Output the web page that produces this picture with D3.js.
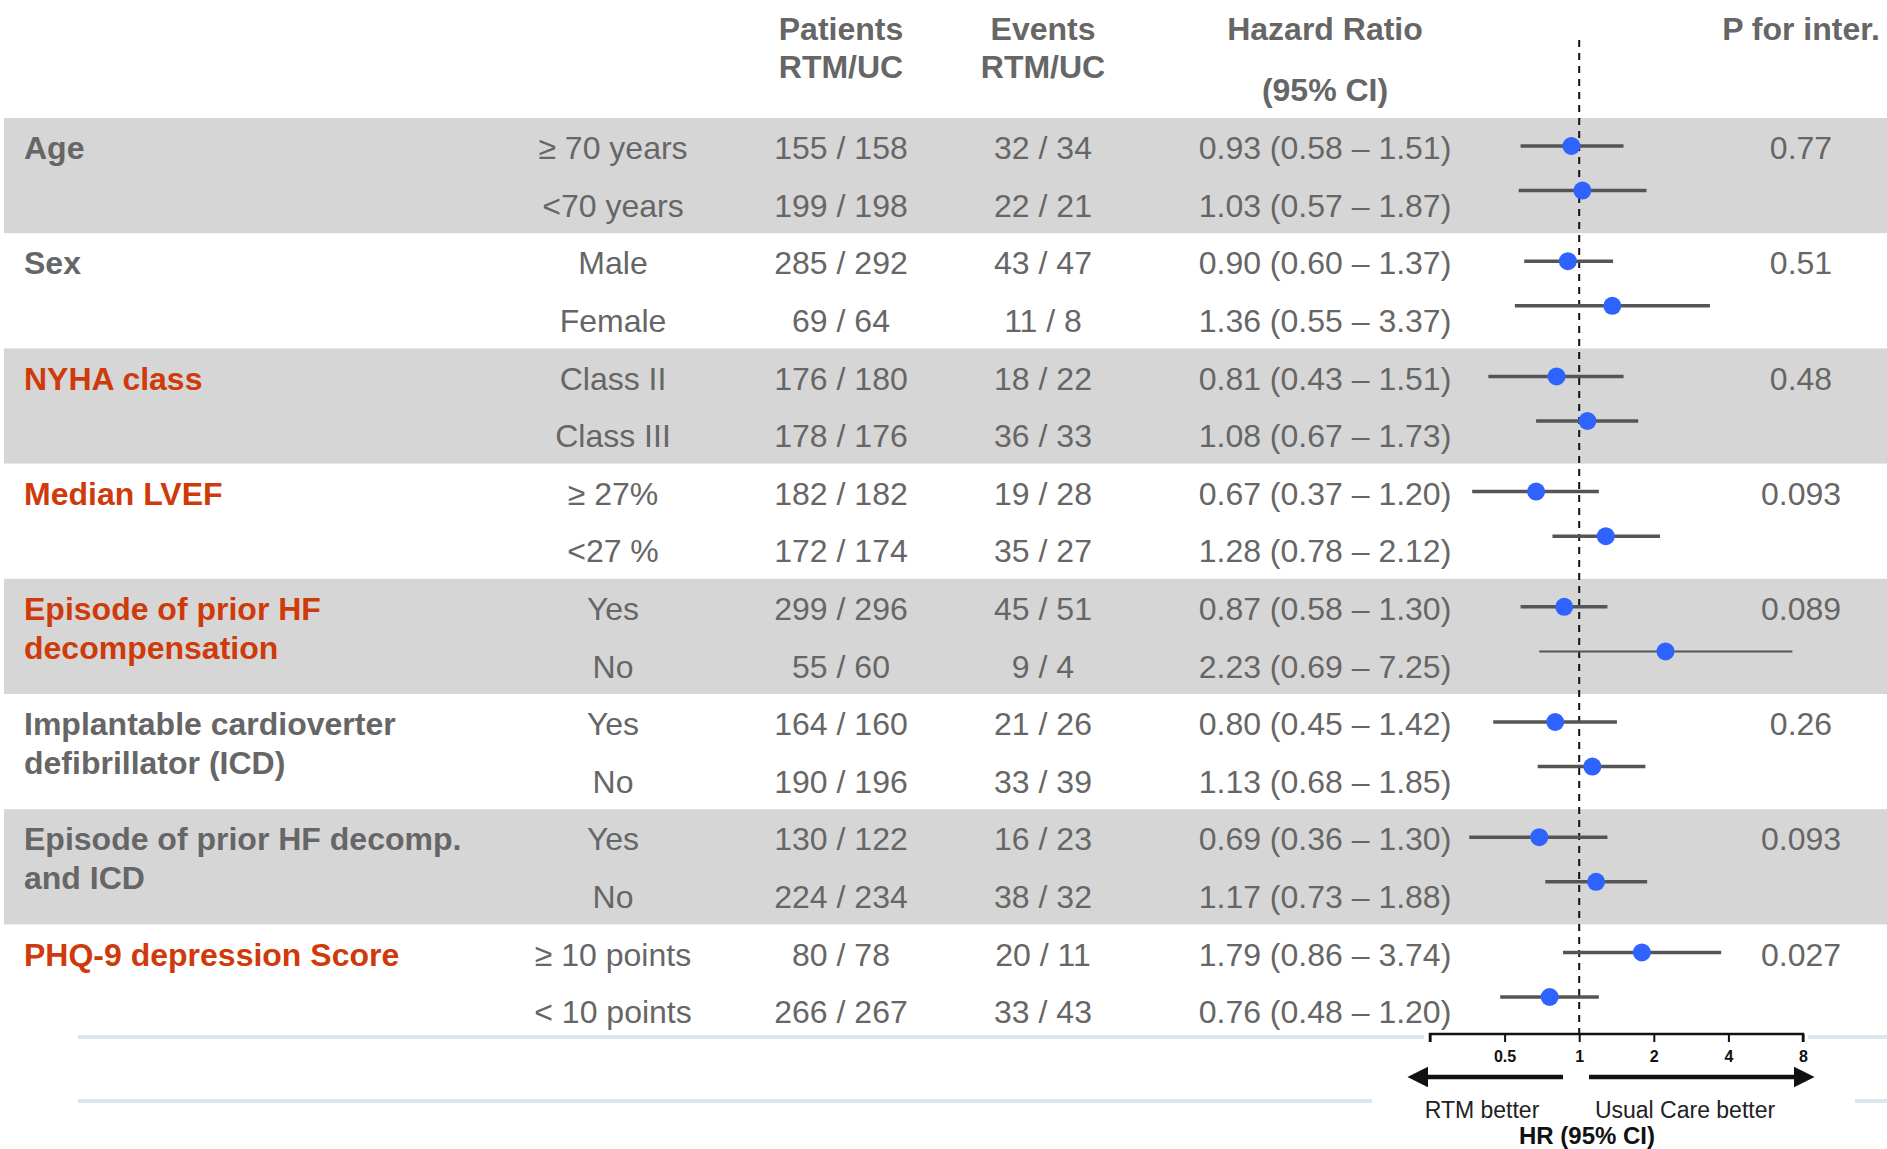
<!DOCTYPE html>
<html>
<head>
<meta charset="utf-8">
<script src="https://cdn.jsdelivr.net/npm/d3@7"></script>
<style>
  html, body { margin: 0; padding: 0; background: #fff; }
  svg { display: block; }
  text { font-family: "Liberation Sans", Arial, sans-serif; }
</style>
</head>
<body>
<svg id="chart" width="1887" height="1149"></svg>
<script>
// Subgroup analysis: RTM vs usual care, hazard ratios with 95% CI
const groupLabels = [
  ["Age"],
  ["Sex"],
  ["NYHA class"],
  ["Median LVEF"],
  ["Episode of prior HF", "decompensation"],
  ["Implantable cardioverter", "defibrillator (ICD)"],
  ["Episode of prior HF decomp.", "and ICD"],
  ["PHQ-9 depression Score"]
];
const highlightedGroups = [2, 3, 4, 7];
const subgroups = ["\u2265 70 years", "<70 years", "Male", "Female", "Class II", "Class III",
  "\u2265 27%", "<27 %", "Yes", "No", "Yes", "No", "Yes", "No", "\u2265 10 points", "< 10 points"];
const patients = ["155 / 158", "199 / 198", "285 / 292", "69 / 64", "176 / 180", "178 / 176",
  "182 / 182", "172 / 174", "299 / 296", "55 / 60", "164 / 160", "190 / 196", "130 / 122",
  "224 / 234", "80 / 78", "266 / 267"];
const events = ["32 / 34", "22 / 21", "43 / 47", "11 / 8", "18 / 22", "36 / 33", "19 / 28",
  "35 / 27", "45 / 51", "9 / 4", "21 / 26", "33 / 39", "16 / 23", "38 / 32", "20 / 11", "33 / 43"];
const hr = [0.93, 1.03, 0.90, 1.36, 0.81, 1.08, 0.67, 1.28, 0.87, 2.23, 0.80, 1.13, 0.69, 1.17, 1.79, 0.76];
const ciLow = [0.58, 0.57, 0.60, 0.55, 0.43, 0.67, 0.37, 0.78, 0.58, 0.69, 0.45, 0.68, 0.36, 0.73, 0.86, 0.48];
const ciHigh = [1.51, 1.87, 1.37, 3.37, 1.51, 1.73, 1.20, 2.12, 1.30, 7.25, 1.42, 1.85, 1.30, 1.88, 3.74, 1.20];
const pInteraction = ["0.77", "0.51", "0.48", "0.093", "0.089", "0.26", "0.093", "0.027"];
const axisTicks = [0.25, 0.5, 1, 2, 4, 8];
const axisTickLabels = ["", "0.5", "1", "2", "4", "8"];

const svg = d3.select("#chart");
const textGray = "#666666";
const accent = "#cf3a0b";
const bandFill = "#d6d6d6";

const nRows = subgroups.length;
const y = d3.scaleLinear().domain([0, nRows - 1]).range([148, 1012]);
const rowStep = y(1) - y(0);
const x = d3.scaleLog().base(2).domain([0.25, 8]).range([1430, 1803]);

const col = { label: 24, sub: 613, pat: 841, evt: 1043, hr: 1325, p: 1801 };

// Alternating group bands
const bands = svg.append("g");
groupLabels.forEach((g, i) => {
  if (i % 2 === 0) {
    bands.append("rect")
      .attr("x", 4).attr("width", 1887 - 4)
      .attr("y", y(2 * i) - 30).attr("height", rowStep * 2)
      .attr("fill", bandFill);
  }
});

// Column headers
const head = svg.append("g").attr("font-weight", "bold").attr("font-size", 32)
  .attr("fill", textGray).attr("text-anchor", "middle");
[[col.pat, 29, "Patients"], [col.pat, 67, "RTM/UC"], [col.evt, 29, "Events"],
 [col.evt, 67, "RTM/UC"], [col.hr, 29, "Hazard Ratio"], [col.hr, 90, "(95% CI)"],
 [col.p, 29, "P for inter."]].forEach(([cx, cy, t]) => {
  head.append("text").attr("x", cx).attr("y", cy).attr("dy", "0.35em").text(t);
});

// Group labels and interaction p-values
const gl = svg.append("g").attr("font-size", 32);
groupLabels.forEach((lines, i) => {
  const t = gl.append("text")
    .attr("font-weight", "bold")
    .attr("fill", highlightedGroups.includes(i) ? accent : textGray);
  lines.forEach((ln, k) => {
    t.append("tspan").attr("x", col.label).attr("y", y(2 * i) + k * 38.5)
      .attr("dy", "0.35em").text(ln);
  });
  gl.append("text").attr("x", col.p).attr("y", y(2 * i)).attr("dy", "0.35em")
    .attr("text-anchor", "middle").attr("fill", textGray).text(pInteraction[i]);
});

// Row values
const fmt = d3.format(".2f");
const rows = svg.append("g").attr("font-size", 32).attr("fill", textGray).attr("text-anchor", "middle");
subgroups.forEach((s, i) => {
  const cy = y(i);
  const cells = [
    [col.sub, s], [col.pat, patients[i]], [col.evt, events[i]],
    [col.hr, `${fmt(hr[i])} (${fmt(ciLow[i])} \u2013 ${fmt(ciHigh[i])})`]
  ];
  cells.forEach(([cx, t]) => {
    rows.append("text").attr("x", cx).attr("y", cy).attr("dy", "0.35em").text(t);
  });
});

// Light separator rules under the table
const rules = svg.append("g").attr("stroke", "#dae5ec").attr("stroke-width", 4);
rules.append("line").attr("x1", 78).attr("x2", 1887).attr("y1", 1037).attr("y2", 1037);
rules.append("line").attr("x1", 78).attr("x2", 1372).attr("y1", 1101).attr("y2", 1101);
rules.append("line").attr("x1", 1855).attr("x2", 1887).attr("y1", 1101).attr("y2", 1101);
svg.append("rect").attr("x", 1424).attr("y", 1031).attr("width", 384).attr("height", 12).attr("fill", "#fff");

// Forest plot: reference line at HR = 1
svg.append("line")
  .attr("x1", x(1)).attr("x2", x(1)).attr("y1", 40).attr("y2", 1040)
  .attr("stroke", "#111").attr("stroke-width", 2).attr("stroke-dasharray", "7,6");

const dotOffset = [-2, -15];
const plotY = i => y(i) + dotOffset[i % 2];
const forest = svg.append("g");
subgroups.forEach((s, i) => {
  forest.append("line")
    .attr("x1", x(ciLow[i])).attr("x2", x(ciHigh[i]))
    .attr("y1", plotY(i)).attr("y2", plotY(i))
    .attr("stroke", "#555").attr("stroke-width", i === 9 ? 2 : 3.5);
  forest.append("circle")
    .attr("cx", x(hr[i])).attr("cy", plotY(i)).attr("r", 9)
    .attr("fill", "#2f63ff");
});

// HR axis (log base 2)
const axisY = 1034;
const axis = d3.axisBottom(x).tickValues(axisTicks)
  .tickFormat((d, i) => axisTickLabels[i]).tickSize(8).tickPadding(9);
const ag = svg.append("g").attr("transform", `translate(0,${axisY})`).call(axis);
ag.select(".domain").attr("d", `M${x(0.25)},8V0H${x(8)}V8`).attr("stroke", "#111").attr("stroke-width", 2.5);
ag.selectAll(".tick line").attr("stroke", "#111").attr("stroke-width", 2);
ag.selectAll(".tick text").attr("font-size", 16).attr("font-weight", "bold")
  .attr("fill", "#111").attr("font-family", "'Liberation Sans Narrow', 'DejaVu Sans Condensed', sans-serif");

// Direction arrows
const defs = svg.append("defs");
defs.append("marker").attr("id", "head").attr("viewBox", "0 0 10 10")
  .attr("refX", 2).attr("refY", 5).attr("markerWidth", 4.6).attr("markerHeight", 4.6)
  .attr("markerUnits", "strokeWidth").attr("orient", "auto-start-reverse")
  .append("path").attr("d", "M0,0L10,5L0,10Z").attr("fill", "#111");
const arrowY = 1077;
svg.append("line").attr("x1", 1563).attr("x2", 1424).attr("y1", arrowY).attr("y2", arrowY)
  .attr("stroke", "#111").attr("stroke-width", 4.5).attr("marker-end", "url(#head)");
svg.append("line").attr("x1", 1589).attr("x2", 1798).attr("y1", arrowY).attr("y2", arrowY)
  .attr("stroke", "#111").attr("stroke-width", 4.5).attr("marker-end", "url(#head)");

svg.append("text").attr("x", 1482).attr("y", 1110).attr("dy", "0.35em")
  .attr("text-anchor", "middle").attr("font-size", 23).attr("fill", "#222").text("RTM better");
svg.append("text").attr("x", 1685).attr("y", 1110).attr("dy", "0.35em")
  .attr("text-anchor", "middle").attr("font-size", 23).attr("fill", "#222").text("Usual Care better");
svg.append("text").attr("x", 1587).attr("y", 1136).attr("dy", "0.35em")
  .attr("text-anchor", "middle").attr("font-size", 24).attr("font-weight", "bold")
  .attr("fill", "#111").text("HR (95% CI)");
</script>
</body>
</html>
